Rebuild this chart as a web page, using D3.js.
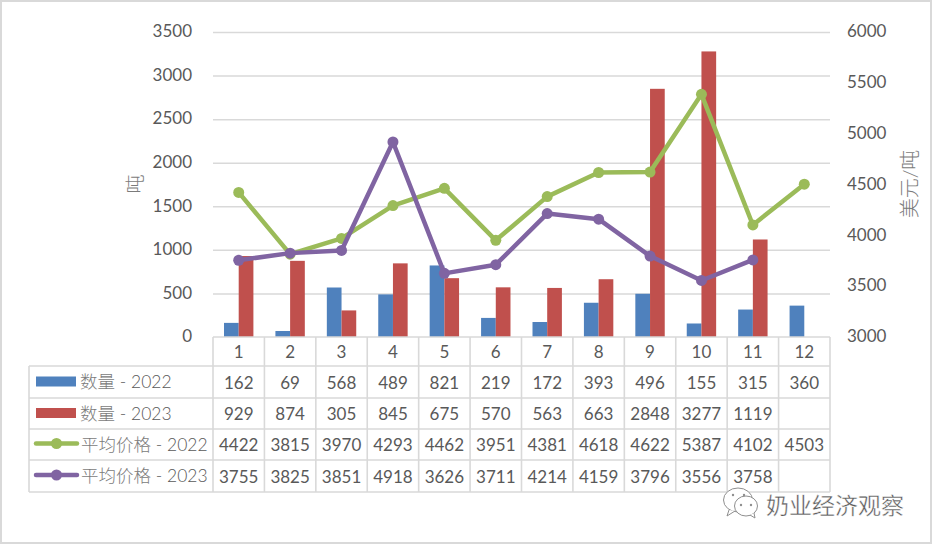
<!DOCTYPE html>
<html>
<head>
<meta charset="utf-8">
<script src="https://cdn.jsdelivr.net/npm/d3@7/dist/d3.min.js"></script>
<style>
  html, body { margin: 0; padding: 0; background: #fff; }
  svg { display: block; }
  text { font-family: Lato, "Noto Sans CJK SC", sans-serif; fill: #595959; }
  .cjk { font-family: Lato, "Noto Sans CJK SC", sans-serif; font-weight: 300; }
  .soft { fill: #7b7b7b; }
</style>
</head>
<body>
<svg id="chart" width="933" height="545"></svg>
<script>
// Monthly dairy import volume (tons) and average price (USD/ton)
const months = [1, 2, 3, 4, 5, 6, 7, 8, 9, 10, 11, 12];
const qty2022 = [162, 69, 568, 489, 821, 219, 172, 393, 496, 155, 315, 360];
const qty2023 = [929, 874, 305, 845, 675, 570, 563, 663, 2848, 3277, 1119, null];
const price2022 = [4422, 3815, 3970, 4293, 4462, 3951, 4381, 4618, 4622, 5387, 4102, 4503];
const price2023 = [3755, 3825, 3851, 4918, 3626, 3711, 4214, 4159, 3796, 3556, 3758, null];
const qtyTicks = [0, 500, 1000, 1500, 2000, 2500, 3000, 3500];
const priceTicks = [3000, 3500, 4000, 4500, 5000, 5500, 6000];
const seriesWords = ["数量", "数量", "平均价格", "平均价格"];
const seriesYears = [" - 2022", " - 2023", " - 2022", " - 2023"];
const seriesColors = ["#4F81BD", "#C0504D", "#9BBB59", "#8064A2"];
const seriesValues = [qty2022, qty2023, price2022, price2023];

const svg = d3.select("#chart");
const grey = "#D9D9D9";
const numberSize = "17px";

// Outer chart frame
svg.append("rect").attr("x", 1).attr("y", 1).attr("width", 930).attr("height", 542)
  .attr("fill", "#fff").attr("stroke", grey).attr("stroke-width", 2);

const plot = { left: 213, right: 830, top: 32, bottom: 337 };
const x = d3.scaleBand().domain(months).range([plot.left, plot.right]);
const yQty = d3.scaleLinear().domain([0, 3500]).range([plot.bottom, plot.top]);
const yPrice = d3.scaleLinear().domain([3000, 6000]).range([plot.bottom, plot.top]);

// Horizontal gridlines and left axis labels
const leftAxis = svg.append("g").attr("transform", `translate(${plot.left},0)`)
  .call(d3.axisLeft(yQty).tickValues(qtyTicks).tickSize(0).tickPadding(21).tickFormat(d3.format("d")));
leftAxis.select(".domain").remove();
leftAxis.selectAll("text").style("font-size", numberSize).attr("dy", "0.28em");
leftAxis.selectAll(".tick").filter(d => d > 0).append("line")
  .attr("x1", 0).attr("x2", plot.right - plot.left)
  .attr("stroke", grey).attr("stroke-width", 1.5);

// Right axis labels
const rightAxis = svg.append("g").attr("transform", `translate(${plot.right},0)`)
  .call(d3.axisRight(yPrice).tickValues(priceTicks).tickSize(0).tickPadding(17).tickFormat(d3.format("d")));
rightAxis.select(".domain").remove();
rightAxis.selectAll("text").style("font-size", numberSize).attr("dy", "0.28em");

// Axis titles
svg.append("text").attr("class", "cjk soft")
  .attr("transform", "translate(134,184) rotate(-90)")
  .attr("text-anchor", "middle").attr("dominant-baseline", "central")
  .style("font-size", "19px").text("吨");
svg.append("text").attr("class", "cjk soft")
  .attr("transform", "translate(909,184) rotate(-90)")
  .attr("text-anchor", "middle").attr("dominant-baseline", "central")
  .style("font-size", "20px").text("美元/吨");

// Clustered bars
const barInner = d3.scaleBand().domain([0, 1]).range([11, 40.4]);
[qty2022, qty2023].forEach((vals, s) => {
  svg.append("g").selectAll("rect")
    .data(months.map((m, i) => ({ m, v: vals[i] })).filter(d => d.v != null))
    .join("rect")
    .attr("x", d => x(d.m) + barInner(s))
    .attr("width", barInner.bandwidth())
    .attr("y", d => yQty(d.v))
    .attr("height", d => plot.bottom - yQty(d.v))
    .attr("fill", seriesColors[s]);
});

// Price lines with round markers
[price2022, price2023].forEach((vals, s) => {
  const color = seriesColors[s + 2];
  const pts = months.map((m, i) => ({ m, v: vals[i] })).filter(d => d.v != null);
  const line = d3.line().x(d => x(d.m) + x.bandwidth() / 2).y(d => yPrice(d.v));
  svg.append("path").datum(pts).attr("d", line)
    .attr("fill", "none").attr("stroke", color).attr("stroke-width", 4.5)
    .attr("stroke-linecap", "round").attr("stroke-linejoin", "round");
  svg.append("g").selectAll("circle").data(pts).join("circle")
    .attr("cx", d => x(d.m) + x.bandwidth() / 2)
    .attr("cy", d => yPrice(d.v))
    .attr("r", 5.5).attr("fill", color);
});

// Data table beneath the plot
const tableLeft = 29;
const rowEdges = [337, 366, 398, 429, 460, 492];
const table = svg.append("g");
const tableLine = (x1, y1, x2, y2) => table.append("line")
  .attr("x1", x1).attr("y1", y1).attr("x2", x2).attr("y2", y2)
  .attr("stroke", grey).attr("stroke-width", 1.6);
rowEdges.forEach((ry, i) => tableLine(i === 0 ? plot.left : tableLeft, ry, plot.right, ry));
tableLine(tableLeft, rowEdges[1], tableLeft, rowEdges[5]);
months.forEach(m => tableLine(x(m), rowEdges[0], x(m), rowEdges[5]));
tableLine(plot.right, rowEdges[0], plot.right, rowEdges[5]);

const rowMid = i => (rowEdges[i] + rowEdges[i + 1]) / 2;
table.selectAll("text.month").data(months).join("text").attr("class", "month")
  .attr("x", d => x(d) + x.bandwidth() / 2).attr("y", rowMid(0))
  .attr("text-anchor", "middle").attr("dominant-baseline", "central")
  .style("font-size", numberSize).text(d => d);

seriesValues.forEach((vals, s) => {
  const row = s + 1;
  const cy = rowMid(row);
  table.append("g").selectAll("text")
    .data(months.map((m, i) => ({ m, v: vals[i] })).filter(d => d.v != null))
    .join("text")
    .attr("x", d => x(d.m) + x.bandwidth() / 2).attr("y", cy)
    .attr("text-anchor", "middle").attr("dominant-baseline", "central")
    .style("font-size", numberSize).text(d => d.v);

  // Legend key for the row
  if (s < 2) {
    table.append("rect").attr("x", 36).attr("y", cy - 5.5).attr("width", 40).attr("height", 10)
      .attr("fill", seriesColors[s]);
  } else {
    table.append("line").attr("x1", 36).attr("x2", 77).attr("y1", cy - 1).attr("y2", cy - 1)
      .attr("stroke", seriesColors[s]).attr("stroke-width", 4.5).attr("stroke-linecap", "round");
    table.append("circle").attr("cx", 56.5).attr("cy", cy - 1).attr("r", 5.5).attr("fill", seriesColors[s]);
  }
  const label = table.append("text").attr("class", "cjk")
    .attr("x", s < 2 ? 80 : 81).attr("y", cy - 1)
    .attr("dominant-baseline", "central")
    .style("font-size", "17.5px");
  label.append("tspan").attr("class", "soft").text(seriesWords[s]);
  label.append("tspan").style("white-space", "pre").text(seriesYears[s]);
});

// Account mark in the lower right corner
const mark = svg.append("g").attr("fill", "#fff").attr("stroke", "#8f8f8f").attr("stroke-width", 1);
mark.append("ellipse").attr("cx", 738).attr("cy", 500).attr("rx", 14.5).attr("ry", 12);
mark.append("path").attr("d", "M729 510 L727 516 L735 511");
mark.append("ellipse").attr("cx", 746).attr("cy", 506).attr("rx", 11.5).attr("ry", 10);
mark.append("path").attr("d", "M750 515 L755 518 L754 513");
[[733, 495], [744, 495], [741, 505], [751, 505]].forEach(([cx, cy]) =>
  mark.append("circle").attr("cx", cx).attr("cy", cy).attr("r", 1.2).attr("fill", "#8f8f8f").attr("stroke", "none"));
svg.append("text").attr("x", 766).attr("y", 504)
  .attr("dominant-baseline", "central")
  .attr("stroke", "#fff").attr("stroke-width", 0.4)
  .style("font-family", '"Noto Sans CJK SC", sans-serif')
  .style("font-size", "23px").style("fill", "#5a5a5a").text("奶业经济观察");
</script>
</body>
</html>
